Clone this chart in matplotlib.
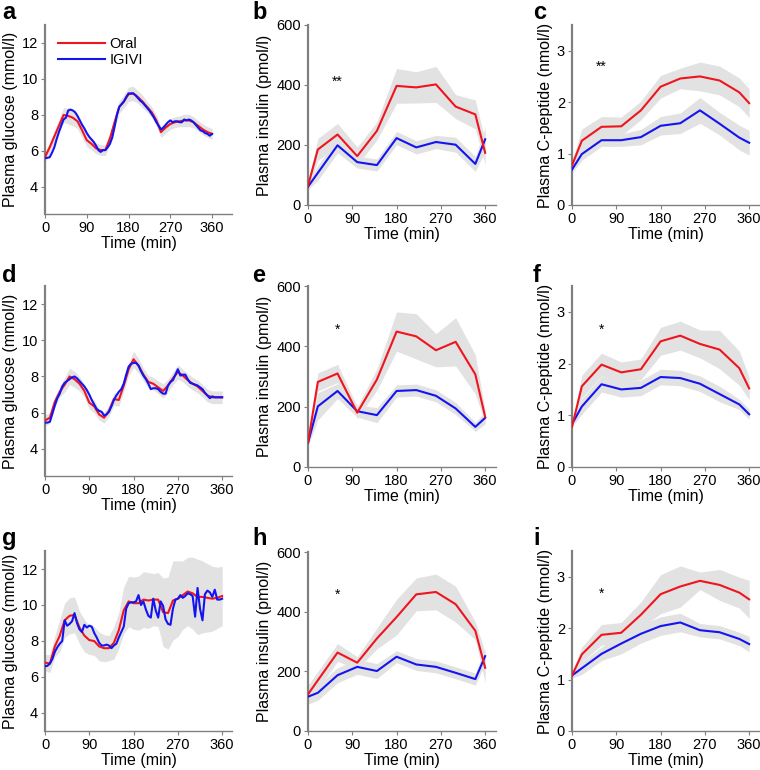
import numpy as np
import matplotlib
matplotlib.use("Agg")
import matplotlib.pyplot as plt

plt.rcParams['font.family'] = ['Liberation Sans', 'DejaVu Sans']

# time grids
t_oral = list(range(0, 361, 10))
t_igivi = list(range(0, 361, 5))
t_samp = [0, 20, 60, 100, 140, 180, 220, 260, 300, 340, 360]

# ---- glucose (mmol/l) ----
glc_a_oral = [5.66, 6.2, 6.8, 7.4, 8.0, 7.95, 7.85, 7.65, 7.15, 6.6, 6.4, 6.15, 6.05, 6.05, 6.7,
              7.6, 8.45, 8.75, 9.15, 9.2, 9.0, 8.75, 8.45, 8.15, 7.7, 7.05, 7.3, 7.5, 7.6, 7.65,
              7.7, 7.7, 7.6, 7.4, 7.2, 7.05, 6.95]
glc_a_igivi = [5.6, 5.62, 5.65, 5.9, 6.2, 6.65, 7.05, 7.4, 7.75, 7.85, 8.25, 8.3, 8.25, 8.15, 7.95,
               7.7, 7.45, 7.25, 7.0, 6.8, 6.65, 6.5, 6.3, 6.05, 5.95, 6.05, 6.05, 6.2, 6.4, 6.75,
               7.35, 8.0, 8.45, 8.6, 8.75, 9.0, 9.2, 9.2, 9.2, 9.1, 8.95, 8.8, 8.7, 8.55, 8.4,
               8.25, 8.05, 7.85, 7.6, 7.4, 7.2, 7.3, 7.45, 7.6, 7.7, 7.6, 7.65, 7.65, 7.6, 7.6,
               7.75, 7.7, 7.75, 7.7, 7.6, 7.45, 7.3, 7.15, 7.1, 7.0, 6.95, 6.85, 6.95]
glc_a_sem = [0.3, 0.3, 0.3, 0.35, 0.4, 0.45, 0.45, 0.4, 0.4, 0.35, 0.35, 0.3, 0.3, 0.3, 0.3,
             0.35, 0.35, 0.35, 0.4, 0.4, 0.35, 0.35, 0.3, 0.3, 0.3, 0.3, 0.3, 0.3, 0.3, 0.3,
             0.35, 0.35, 0.3, 0.3, 0.3, 0.3, 0.3]

glc_d_oral = [5.57, 5.72, 6.6, 7.15, 7.55, 8.0, 7.85, 7.6, 7.2, 6.55, 6.35, 5.9, 5.72, 6.1, 6.75,
              6.7, 7.5, 8.4, 8.95, 8.6, 8.1, 7.7, 7.6, 7.4, 7.2, 7.5, 7.9, 8.25, 8.05, 7.8,
              7.6, 7.45, 7.2, 6.95, 6.85, 6.85, 6.85]
glc_d_igivi = [5.45, 5.45, 5.5, 5.95, 6.4, 6.8, 7.05, 7.45, 7.65, 7.75, 7.85, 7.95, 8.0, 7.9, 7.75,
               7.6, 7.45, 7.25, 7.0, 6.7, 6.45, 6.2, 6.1, 6.05, 5.85, 5.9, 6.05, 6.35, 6.7, 6.95,
               7.15, 7.3, 7.6, 8.1, 8.55, 8.7, 8.75, 8.75, 8.6, 8.3, 8.05, 7.85, 7.6, 7.3, 7.35,
               7.35, 7.3, 7.15, 7.05, 7.05, 7.5, 7.7, 7.8, 8.1, 8.4, 8.05, 8.1, 8.1, 7.85, 7.65,
               7.6, 7.55, 7.5, 7.4, 7.3, 7.1, 6.95, 6.8, 6.9, 6.85, 6.85, 6.85, 6.85]
glc_d_sem = [0.3, 0.3, 0.3, 0.3, 0.4, 0.45, 0.45, 0.4, 0.35, 0.35, 0.35, 0.3, 0.3, 0.3, 0.35,
             0.35, 0.35, 0.35, 0.45, 0.4, 0.35, 0.35, 0.35, 0.35, 0.4, 0.35, 0.35, 0.4, 0.35, 0.35,
             0.35, 0.35, 0.35, 0.35, 0.35, 0.35, 0.35]

glc_g_oral = [6.8, 6.75, 7.7, 8.3, 9.15, 9.4, 9.45, 8.75, 8.3, 8.05, 8.0, 7.7, 7.6, 7.6, 7.9,
              8.6, 9.7, 10.2, 10.1, 10.1, 10.3, 10.25, 10.3, 10.3, 9.6, 9.55, 10.25, 10.35, 10.55, 10.75,
              10.65, 10.45, 10.45, 10.4, 10.35, 10.4, 10.5]
glc_g_igivi = [6.6, 6.62, 6.75, 7.0, 7.4, 7.65, 7.85, 8.0, 9.15, 8.85, 8.95, 9.1, 9.55, 9.0, 8.65,
               8.5, 8.9, 8.75, 8.85, 8.8, 8.45, 8.2, 7.9, 7.75, 7.75, 7.8, 7.75, 7.6, 7.75, 7.85,
               8.2, 8.5, 8.8, 9.8, 10.1, 10.15, 10.15, 10.2, 10.55, 10.0, 10.2, 9.75, 9.4, 9.3, 10.35,
               9.7, 9.3, 10.2, 9.95, 9.2, 8.95, 8.9, 9.8, 10.3, 10.35, 10.55, 10.4, 10.5, 10.65, 10.6,
               10.5, 9.35, 10.95, 9.8, 9.15, 10.6, 10.8, 10.7, 10.45, 10.85, 10.3, 10.3, 10.35]
glc_g_sem = [0.45, 0.5, 0.6, 0.9, 0.95, 1.0, 1.0, 0.9, 0.9, 0.8, 0.8, 0.8, 0.75, 0.7, 0.9,
             1.0, 1.3, 1.4, 1.45, 1.5, 1.55, 1.55, 1.45, 1.5, 1.9, 2.0, 2.2, 2.1, 1.9, 1.9,
             2.0, 2.1, 2.0, 1.9, 1.8, 1.7, 1.65]

# ---- insulin (pmol/l) ----
ins_b_oral = [64, 185, 235, 163, 247, 397, 392, 402, 328, 302, 174]
ins_b_oral_sem = [12, 37, 37, 30, 30, 58, 52, 60, 40, 48, 40]
ins_b_igivi = [61, 107, 199, 143, 133, 223, 192, 210, 201, 137, 219]
ins_b_igivi_sem = [10, 25, 25, 20, 20, 22, 22, 22, 25, 25, 40]

ins_e_oral = [80, 282, 310, 180, 290, 449, 433, 387, 415, 307, 166]
ins_e_oral_sem = [10, 30, 30, 20, 35, 65, 75, 55, 80, 65, 20]
ins_e_igivi = [80, 201, 252, 185, 172, 252, 255, 236, 194, 133, 163]
ins_e_igivi_sem = [10, 45, 25, 20, 25, 20, 20, 20, 20, 15, 20]

ins_h_oral = [123, 170, 263, 229, 310, 382, 458, 466, 425, 336, 212]
ins_h_oral_sem = [30, 30, 30, 20, 35, 60, 55, 60, 60, 30, 50]
ins_h_igivi = [115, 128, 187, 215, 201, 249, 223, 215, 195, 174, 251]
ins_h_igivi_sem = [25, 25, 25, 25, 25, 20, 20, 20, 20, 20, 25]

# ---- C-peptide (nmol/l) ----
cp_c_oral = [0.77, 1.25, 1.52, 1.53, 1.84, 2.30, 2.46, 2.50, 2.42, 2.19, 1.98]
cp_c_oral_sem = [0.08, 0.23, 0.2, 0.18, 0.18, 0.22, 0.2, 0.28, 0.28, 0.28, 0.28]
cp_c_igivi = [0.69, 0.99, 1.26, 1.26, 1.32, 1.54, 1.59, 1.84, 1.58, 1.31, 1.21]
cp_c_igivi_sem = [0.06, 0.12, 0.12, 0.12, 0.15, 0.18, 0.2, 0.25, 0.22, 0.24, 0.24]

cp_f_oral = [0.78, 1.56, 1.98, 1.83, 1.89, 2.43, 2.54, 2.38, 2.27, 1.91, 1.52]
cp_f_oral_sem = [0.05, 0.22, 0.22, 0.2, 0.2, 0.27, 0.28, 0.27, 0.37, 0.33, 0.22]
cp_f_igivi = [0.83, 1.17, 1.60, 1.50, 1.53, 1.74, 1.72, 1.61, 1.41, 1.21, 1.02]
cp_f_igivi_sem = [0.05, 0.15, 0.15, 0.15, 0.15, 0.15, 0.15, 0.15, 0.15, 0.1, 0.1]

cp_i_oral = [1.08, 1.49, 1.87, 1.91, 2.26, 2.66, 2.81, 2.92, 2.84, 2.69, 2.56]
cp_i_oral_sem = [0.05, 0.15, 0.2, 0.2, 0.25, 0.38, 0.4, 0.17, 0.3, 0.3, 0.37]
cp_i_igivi = [1.08, 1.22, 1.50, 1.70, 1.89, 2.04, 2.11, 1.96, 1.92, 1.79, 1.69]
cp_i_igivi_sem = [0.05, 0.12, 0.13, 0.2, 0.18, 0.18, 0.18, 0.13, 0.13, 0.13, 0.15]

RED = '#f0141e'
BLUE = '#1414f0'
BAND = '#e2e2e2'
SPINE = '#808080'

W, H = 760, 770
fig = plt.figure(figsize=(W / 100, H / 100), dpi=100)


def make_ax(l, t, r, b):
    ax = fig.add_axes([l / W, 1 - b / H, (r - l) / W, (b - t) / H])
    for s in ('top', 'right'):
        ax.spines[s].set_visible(False)
    ax.spines['left'].set_color(SPINE)
    ax.spines['left'].set_linewidth(1.6)
    ax.spines['bottom'].set_color(SPINE)
    ax.spines['bottom'].set_linewidth(1.0)
    ax.tick_params(colors='black', labelsize=10.5, length=3, width=0.8, pad=2)
    ax.tick_params(axis='both', color=SPINE)
    ax.set_xticks([0, 90, 180, 270, 360])
    ax.set_xlabel('Time (min)', fontsize=11.5, labelpad=1)
    return ax


def glucose_panel(box, xmax, ylo, oral, igivi, sem):
    ax = make_ax(*box)
    o = np.array(oral)
    s = np.array(sem)
    ax.fill_between(t_oral, o - s, o + s, color=BAND, lw=0, zorder=1)
    ax.plot(t_oral, oral, color=RED, lw=1.5, zorder=3, label='Oral')
    ax.plot(t_igivi, igivi, color=BLUE, lw=1.5, zorder=4, label='IGIVI')
    ax.set_xlim(0, xmax)
    ax.set_ylim(ylo, 13)
    ax.set_yticks([4, 6, 8, 10, 12])
    ax.set_ylabel('Plasma glucose (mmol/l)', fontsize=11.5, labelpad=3)
    return ax


def sampled_panel(box, oral, oral_sem, igivi, igivi_sem, ylim, yticks, ylabel, star, star_y):
    ax = make_ax(*box)
    for m, s in ((igivi, igivi_sem), (oral, oral_sem)):
        m = np.array(m)
        s = np.array(s)
        ax.fill_between(t_samp, m - s, m + s, color=BAND, lw=0, zorder=1)
    ax.plot(t_samp, igivi, color=BLUE, lw=1.5, zorder=3)
    ax.plot(t_samp, oral, color=RED, lw=1.5, zorder=4)
    ax.set_xlim(0, 382)
    ax.set_ylim(*ylim)
    ax.set_yticks(yticks)
    ax.set_ylabel(ylabel, fontsize=11.5, labelpad=3)
    ax.text(60, star_y, star, ha='center', va='center', fontsize=10)
    return ax


ax_a = glucose_panel((45, 25, 232, 214), 403, 2.5, glc_a_oral, glc_a_igivi, glc_a_sem)
ax_a.legend(loc='upper left', bbox_to_anchor=(0.04, 0.965), frameon=False, fontsize=10.5,
            handlelength=3.2, handletextpad=0.3, labelspacing=0.1, borderaxespad=0.0)
glucose_panel((45, 286, 232, 476), 380, 2.5, glc_d_oral, glc_d_igivi, glc_d_sem)
glucose_panel((45, 551, 232, 731), 380, 3.0, glc_g_oral, glc_g_igivi, glc_g_sem)

ins_label = 'Plasma insulin (pmol/l)'
ins_ticks = [0, 200, 400, 600]
sampled_panel((308, 25, 496, 205), ins_b_oral, ins_b_oral_sem, ins_b_igivi, ins_b_igivi_sem,
              (0, 600), ins_ticks, ins_label, '**', 410)
sampled_panel((308, 286, 496, 467), ins_e_oral, ins_e_oral_sem, ins_e_igivi, ins_e_igivi_sem,
              (0, 600), ins_ticks, ins_label, '*', 455)
sampled_panel((308, 552, 496, 731), ins_h_oral, ins_h_oral_sem, ins_h_igivi, ins_h_igivi_sem,
              (0, 600), ins_ticks, ins_label, '*', 455)

cp_label = 'Plasma C-peptide (nmol/l)'
cp_ticks = [0, 1, 2, 3]
sampled_panel((572, 25, 760, 205), cp_c_oral, cp_c_oral_sem, cp_c_igivi, cp_c_igivi_sem,
              (0, 3.5), cp_ticks, cp_label, '**', 2.68)
sampled_panel((572, 286, 760, 467), cp_f_oral, cp_f_oral_sem, cp_f_igivi, cp_f_igivi_sem,
              (0, 3.5), cp_ticks, cp_label, '*', 2.66)
sampled_panel((572, 551, 760, 731), cp_i_oral, cp_i_oral_sem, cp_i_igivi, cp_i_igivi_sem,
              (0, 3.5), cp_ticks, cp_label, '*', 2.66)

letters = [('a', 2, 19), ('b', 252, 19), ('c', 533, 19),
           ('d', 2, 282), ('e', 252, 282), ('f', 533, 282),
           ('g', 2, 545), ('h', 252, 545), ('i', 533, 545)]
for ch, x, y in letters:
    fig.text(x / W, 1 - y / H, ch, fontsize=17, fontweight='bold', va='baseline', ha='left')

fig.savefig('out.png', dpi=100)
